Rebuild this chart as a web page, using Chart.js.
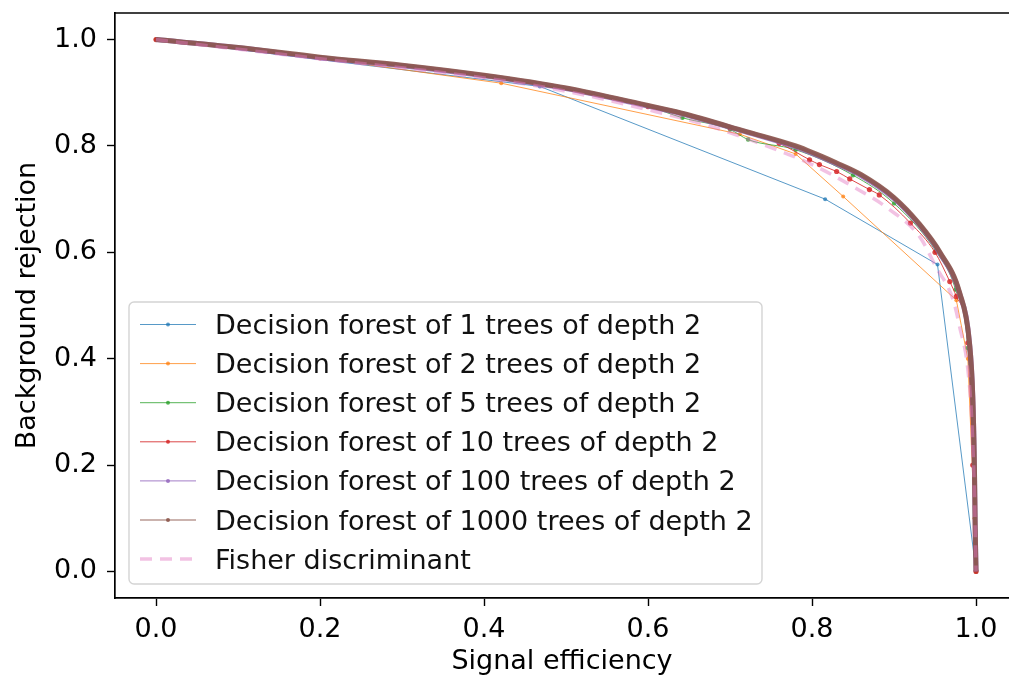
<!DOCTYPE html>
<html>
<head>
<meta charset="utf-8">
<script src="https://cdn.jsdelivr.net/npm/chart.js@4.4.0/dist/chart.umd.min.js"></script>
<style>
  html, body { margin: 0; padding: 0; background: #fff; overflow: hidden; }
  #wrap { width: 1009px; height: 678px; }
  #roc { display: block; }
</style>
</head>
<body>
<div id="wrap"><canvas id="roc" width="1009" height="678"></canvas></div>
<script>
// ROC curves: signal efficiency vs background rejection
const seriesLabels = [
  'Decision forest of 1 trees of depth 2',
  'Decision forest of 2 trees of depth 2',
  'Decision forest of 5 trees of depth 2',
  'Decision forest of 10 trees of depth 2',
  'Decision forest of 100 trees of depth 2',
  'Decision forest of 1000 trees of depth 2',
  'Fisher discriminant'
];

const xTicks = [0.0, 0.2, 0.4, 0.6, 0.8, 1.0];
const yTicks = [0.0, 0.2, 0.4, 0.6, 0.8, 1.0];

const forest1X = [0.0, 0.468, 0.816, 0.953, 1.0];
const forest1Y = [1.0, 0.912, 0.700, 0.577, 0.0];

const forest2X = [0.0, 0.2, 0.421, 0.712, 0.78, 0.838, 0.976, 0.99, 0.998, 1.0];
const forest2Y = [1.0, 0.965, 0.918, 0.822, 0.785, 0.705, 0.510, 0.40, 0.10, 0.0];

const forest5X = [0.0, 0.2, 0.4, 0.6, 0.642, 0.70, 0.722, 0.78, 0.85, 0.9, 0.951, 0.975, 0.99, 0.997, 1.0];
const forest5Y = [1.0, 0.966, 0.932, 0.874, 0.853, 0.831, 0.812, 0.793, 0.745, 0.692, 0.602, 0.53, 0.42, 0.2, 0.0];

const forest10X = [0.0, 0.2, 0.4, 0.6, 0.7, 0.76, 0.797, 0.809, 0.83, 0.846, 0.87, 0.882, 0.92, 0.95, 0.968, 0.976, 0.99, 0.996, 1.0];
const forest10Y = [1.0, 0.966, 0.932, 0.874, 0.834, 0.805, 0.774, 0.765, 0.752, 0.738, 0.718, 0.708, 0.655, 0.60, 0.545, 0.517, 0.43, 0.2, 0.0];

const forest100X = [0.0, 0.1, 0.2, 0.3, 0.4, 0.5, 0.6, 0.64, 0.72, 0.78, 0.83, 0.86, 0.9, 0.93, 0.956, 0.98, 0.992, 0.996, 0.998, 0.999, 1.0];
const forest100Y = [1.0, 0.985, 0.966, 0.951, 0.932, 0.908, 0.875, 0.861, 0.826, 0.798, 0.766, 0.744, 0.701, 0.653, 0.598, 0.522, 0.430, 0.330, 0.200, 0.080, 0.0];

const forest1000X = [0.0, 0.1, 0.2, 0.3, 0.4, 0.5, 0.6, 0.64, 0.72, 0.78, 0.83, 0.86, 0.9, 0.93, 0.956, 0.98, 0.992, 0.996, 0.998, 0.999, 1.0];
const forest1000Y = [1.0, 0.985, 0.967, 0.952, 0.933, 0.909, 0.876, 0.862, 0.827, 0.800, 0.768, 0.746, 0.703, 0.655, 0.600, 0.524, 0.430, 0.330, 0.200, 0.080, 0.0];

const fisherX = [0.0, 0.2, 0.4, 0.5, 0.6, 0.67, 0.75, 0.8, 0.846, 0.895, 0.931, 0.951, 0.972, 0.98, 0.99, 0.995, 0.998, 1.0];
const fisherY = [1.0, 0.964, 0.928, 0.903, 0.868, 0.840, 0.797, 0.765, 0.727, 0.680, 0.630, 0.573, 0.511, 0.460, 0.38, 0.28, 0.15, 0.0];

const FONT = "'DejaVu Sans', sans-serif";
const FONT_SIZE = 27;

function toPoints(xs, ys) {
  return xs.map((x, i) => ({ x: x, y: ys[i] }));
}

function forestSet(i, xs, ys, color, width, dot, smooth) {
  return {
    label: seriesLabels[i],
    data: toPoints(xs, ys),
    borderColor: color,
    backgroundColor: color,
    borderWidth: width,
    pointRadius: dot,
    pointBorderWidth: 0,
    pointBackgroundColor: color,
    cubicInterpolationMode: smooth ? 'monotone' : 'default',
    tension: 0,
    showLine: true,
    fill: false,
    order: 10 - i
  };
}

const datasets = [
  forestSet(0, forest1X, forest1Y, 'rgba(31,119,180,0.75)', 1, 2, false),
  forestSet(1, forest2X, forest2Y, 'rgba(255,127,14,0.75)', 1, 2, false),
  forestSet(2, forest5X, forest5Y, 'rgba(44,160,44,0.8)', 1, 2.2, true),
  forestSet(3, forest10X, forest10Y, 'rgba(214,39,40,0.85)', 1, 2.6, true),
  forestSet(4, forest100X, forest100Y, 'rgba(148,103,189,0.85)', 5, 0, true),
  forestSet(5, forest1000X, forest1000Y, 'rgba(140,86,75,0.9)', 5, 0, true),
  {
    label: seriesLabels[6],
    data: toPoints(fisherX, fisherY),
    borderColor: 'rgba(227,119,194,0.45)',
    borderWidth: 3.5,
    borderDash: [12, 8],
    pointRadius: 0,
    cubicInterpolationMode: 'monotone',
    showLine: true,
    fill: false,
    order: 3
  }
];

// top spine and the legend box in the lower-left of the axes
const framePlugin = {
  id: 'frame',
  afterDatasetsDraw(chart) {
    const ctx = chart.ctx;
    const a = chart.chartArea;
    ctx.save();
    ctx.strokeStyle = '#000';
    ctx.lineWidth = 1.7;
    ctx.beginPath();
    ctx.moveTo(a.left, a.top);
    ctx.lineTo(a.right, a.top);
    ctx.stroke();

    const bx = 129, by = 302, bw = 633, bh = 282;
    ctx.beginPath();
    ctx.roundRect(bx, by, bw, bh, 5);
    ctx.fillStyle = 'rgba(255,255,255,0.8)';
    ctx.fill();
    ctx.strokeStyle = '#d4d4d4';
    ctx.lineWidth = 1.4;
    ctx.stroke();

    ctx.font = FONT_SIZE + 'px ' + FONT;
    ctx.textBaseline = 'alphabetic';
    ctx.textAlign = 'left';
    chart.data.datasets.forEach((ds, i) => {
      const y = 324.5 + i * 39.1;
      ctx.save();
      ctx.strokeStyle = ds.borderColor;
      if (ds.borderDash) {
        ctx.setLineDash(ds.borderDash);
        ctx.lineWidth = ds.borderWidth;
      } else {
        ctx.lineWidth = 1;
      }
      ctx.beginPath();
      ctx.moveTo(140, y);
      ctx.lineTo(196, y);
      ctx.stroke();
      if (!ds.borderDash) {
        ctx.fillStyle = ds.borderColor;
        ctx.beginPath();
        ctx.arc(168, y, 2, 0, Math.PI * 2);
        ctx.fill();
      }
      ctx.restore();
      ctx.fillStyle = '#111';
      ctx.fillText(ds.label, 215, y + 9.5);
    });
    ctx.restore();
  }
};

function axisOpts(ticks, title, isX) {
  return {
    type: 'linear',
    min: -0.05,
    // x axis is cut at the right edge of the figure
    max: isX ? 1.0402 : 1.05,
    afterBuildTicks: (scale) => { scale.ticks = ticks.map(v => ({ value: v })); },
    afterFit: (scale) => {
      if (isX) {
        scale.height = 80;
        scale.paddingLeft = 0;
        scale.paddingRight = 0;
      } else {
        scale.width = 115;
        scale.paddingTop = 0;
        scale.paddingBottom = 0;
      }
    },
    ticks: {
      color: '#000',
      font: { family: FONT, size: FONT_SIZE },
      padding: isX ? 8 : 10,
      callback: (v) => Number(v).toFixed(1),
      maxRotation: 0,
      autoSkip: false
    },
    grid: {
      drawOnChartArea: false,
      drawTicks: true,
      tickLength: 8,
      tickColor: '#000',
      tickWidth: 1.4
    },
    border: { display: true, color: '#000', width: 1.7 },
    title: {
      display: true,
      text: title,
      color: '#000',
      font: { family: FONT, size: FONT_SIZE },
      padding: isX ? { top: 0, bottom: 0 } : { top: 12, bottom: 0 }
    }
  };
}

new Chart(document.getElementById('roc').getContext('2d'), {
  type: 'scatter',
  data: { datasets: datasets },
  options: {
    responsive: false,
    animation: false,
    devicePixelRatio: 1,
    layout: { autoPadding: false, padding: { top: 13, left: 0, right: 0, bottom: 0 } },
    plugins: {
      legend: { display: false },
      tooltip: { enabled: false }
    },
    scales: {
      x: axisOpts(xTicks, 'Signal efficiency', true),
      y: axisOpts(yTicks, 'Background rejection', false)
    }
  },
  plugins: [framePlugin]
});
</script>
</body>
</html>
